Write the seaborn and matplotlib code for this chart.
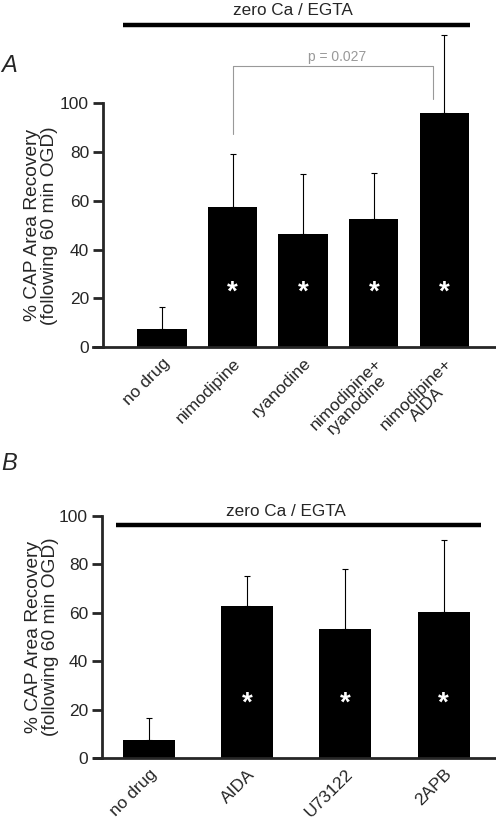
import numpy as np
import pandas as pd
import matplotlib
matplotlib.use('Agg')
import matplotlib.pyplot as plt
import seaborn as sns

sns.set_style("ticks")
plt.rcParams['font.family'] = ['Liberation Sans', 'DejaVu Sans']

# Panel A data
groups_a = ['no drug', 'nimodipine', 'ryanodine', 'nimodipine+\nryanodine', 'nimodipine+\nAIDA']
mean_a = [7.3, 57.6, 46.3, 52.4, 96.2]
sd_a = [9.0, 21.7, 24.7, 18.9, 32.1]

# Panel B data
groups_b = ['no drug', 'AIDA', 'U73122', '2APB']
mean_b = [7.5, 62.8, 53.2, 60.4]
sd_b = [9.0, 12.3, 24.7, 29.7]

ylabel = '% CAP Area Recovery\n(following 60 min OGD)'
p_text = 'p = 0.027'

fig = plt.figure(figsize=(4.96, 8.27), dpi=100)
ax_a = fig.add_axes([0.1875, 0.5804, 0.8105, 0.3828])
ax_b = fig.add_axes([0.1895, 0.0831, 0.8085, 0.2933])


def draw_panel(ax, groups, means, sds, width, xlim, spine_x, ylim):
    df = pd.DataFrame({'group': groups, 'value': means})
    sns.barplot(data=df, x='group', y='value', color='black', width=width,
                errorbar=None, ax=ax, linewidth=0, saturation=1)
    x = np.arange(len(groups))
    ax.errorbar(x, means, yerr=[np.zeros(len(sds)), sds], fmt='none',
                ecolor='black', elinewidth=0.8, capsize=2.5, capthick=0.8)
    for xi, m in zip(x, means):
        if m > 30:
            ax.text(xi, 22.5, '*', color='white', fontsize=20, fontweight='bold',
                    ha='center', va='center')
    ax.set_xlim(*xlim)
    ax.set_ylim(*ylim)
    ax.set_yticks([0, 20, 40, 60, 80, 100])
    ax.spines['top'].set_visible(False)
    ax.spines['right'].set_visible(False)
    ax.spines['left'].set_position(('data', spine_x))
    ax.spines['left'].set_bounds(0, 100)
    ax.spines['left'].set_linewidth(2)
    ax.spines['bottom'].set_linewidth(2)
    ax.tick_params(axis='y', length=7, width=2, labelsize=12.5, pad=3)
    ax.tick_params(axis='x', length=0, labelsize=12.5, pad=6)
    ax.set_xlabel('')
    ax.set_ylabel(ylabel, fontsize=13.8, linespacing=1.0)
    for lab in ax.get_xticklabels():
        lab.set_rotation(45)
        lab.set_ha('right')
        lab.set_rotation_mode('anchor')
        lab.set_multialignment('center')
        lab.set_linespacing(1.0)


draw_panel(ax_a, groups_a, mean_a, sd_a, 0.70, (-0.977, 4.717), -0.836, (0, 130))
draw_panel(ax_b, groups_b, mean_b, sd_b, 0.53, (-0.560, 3.523), -0.479, (0, 100))

ax_a.yaxis.set_label_coords(-0.086, 50 / 130)
ax_b.yaxis.set_label_coords(-0.087, 0.5)

# zero Ca / EGTA bars
ax_a.plot([-0.552, 4.363], [132.3, 132.3], color='black', lw=3.2, clip_on=False, solid_capstyle='butt')
ax_a.text(1.856, 138, 'zero Ca / EGTA', fontsize=12.3, ha='center', va='center')
ax_b.plot([-0.336, 3.381], [96, 96], color='black', lw=3.2, clip_on=False, solid_capstyle='butt')
ax_b.text(1.395, 101.6, 'zero Ca / EGTA', fontsize=12.3, ha='center', va='center', clip_on=False)

# significance bracket
ax_a.plot([1, 1, 3.834, 3.834], [87.5, 115.4, 115.4, 101.7], color='#999999', lw=0.8, clip_on=False)
ax_a.text(2.48, 119.1, p_text, fontsize=10, color='#999999', ha='center', va='center')

fig.text(0.002, 1 - 66 / 827, 'A', fontsize=17, style='italic', ha='left', va='center')
fig.text(0.002, 1 - 463 / 827, 'B', fontsize=17, style='italic', ha='left', va='center')

fig.savefig('out.png', dpi=100)
